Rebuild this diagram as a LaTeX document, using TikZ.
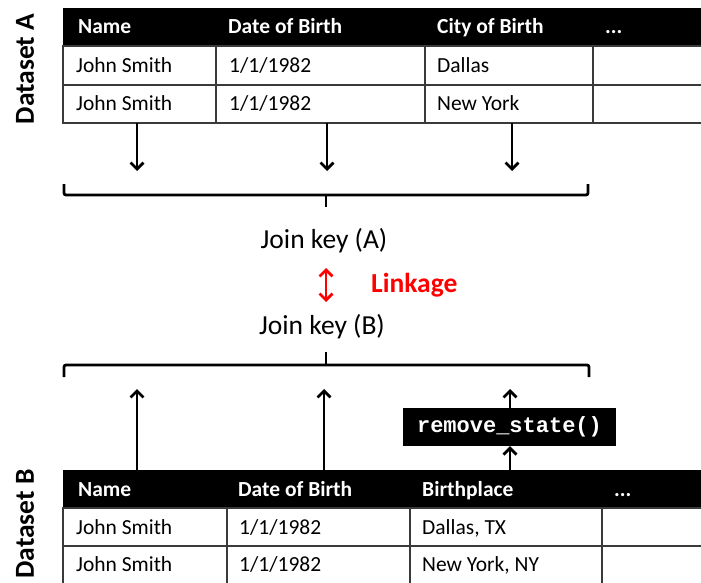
\documentclass[tikz,border=0pt]{standalone}
\usepackage{fontspec}
\setmainfont{Carlito}
\newfontfamily\codefont{Liberation Mono}
\usetikzlibrary{arrows.meta}
\definecolor{gridline}{HTML}{3A3A3A}
\definecolor{linkred}{HTML}{FF0000}
\tikzset{
  cell/.style={anchor=base west, inner sep=0pt, font=\fontsize{21.5}{24}\selectfont},
  headcell/.style={cell, text=white, font=\fontsize{21.5}{24}\selectfont\bfseries},
  gridlines/.style={draw=gridline, line width=1.4pt},
  setlabel/.style={rotate=90, inner sep=0pt, font=\fontsize{27.5}{30}\selectfont\bfseries},
  keylabel/.style={inner sep=0pt, font=\fontsize{27.5}{30}\selectfont},
  feed/.style={line width=2.8pt, -{Straight Barb[length=6.5pt,width=13pt,line width=2.8pt]}},
  brace/.style={line width=2.8pt, rounded corners=2pt},
  funcbox/.style={fill=black, text=white, minimum width=213pt, minimum height=38pt, inner sep=0pt,
    font=\codefont\fontsize{22}{24}\selectfont\bfseries},
}
\begin{document}
\begin{tikzpicture}[x=1pt,y=-1pt]
\useasboundingbox (0,0) rectangle (701,583);
\clip (0,0) rectangle (701,583);

% ---------- Dataset A ----------
\fill[black] (63,8) rectangle (720,46);
\draw[gridlines] (63,46) rectangle (720,123);
\draw[gridlines] (63,85) -- (720,85);
\foreach \x in {216,425,593} \draw[gridlines] (\x,46) -- (\x,123);
\node[headcell] (ahname) at (78,34) {Name};
\node[headcell] (ahdob)  at (228,34) {Date of Birth};
\node[headcell] (ahcity) at (437,34) {City of Birth};
\node[headcell] (ahmore) at (605,34) {...};
\node[cell] (a1name) at (76,72.5) {John Smith};
\node[cell] (a1dob)  at (229,72.5) {1/1/1982};
\node[cell] (a1city) at (437,72.5) {Dallas};
\node[cell] (a2name) at (76,110.5) {John Smith};
\node[cell] (a2dob)  at (229,110.5) {1/1/1982};
\node[cell] (a2city) at (437,110.5) {New York};
\node[setlabel] (setA) at (25,69) {Dataset A};

% columns of A feeding the join key
\coordinate (aout1) at (137,123);
\coordinate (aout2) at (327,123);
\coordinate (aout3) at (512,123);
\coordinate (ain1) at (137,171);
\coordinate (ain2) at (327,171);
\coordinate (ain3) at (512,171);
\foreach \i in {1,2,3} \draw[feed] (aout\i) -- (ain\i);

% brace gathering the columns of A
\coordinate (abl) at (64,184);
\coordinate (abr) at (588,184);
\coordinate (abtip) at (326,207);
\draw[brace] (abl) -- (64,195) -- (588,195) -- (abr);
\draw[line width=2.8pt] (326,195) -- (abtip);

% ---------- join keys ----------
\node[keylabel] (keyA) at (324,241) {Join key (A)};
\node[keylabel] (keyB) at (322,327) {Join key (B)};
\coordinate (linktop) at (326,268);
\coordinate (linkbot) at (326,302);
\draw[draw=linkred, line width=2.8pt,
  {Straight Barb[length=6.5pt,width=13pt,line width=2.8pt]}-{Straight Barb[length=6.5pt,width=13pt,line width=2.8pt]}]
  (linktop) -- (linkbot);
\node[keylabel, anchor=west, text=linkred, font=\fontsize{27.5}{30}\selectfont\bfseries] (link) at (371,285) {Linkage};

% brace gathering the columns of B
\coordinate (bbl) at (64,377);
\coordinate (bbr) at (589,377);
\coordinate (bbtip) at (326,352);
\draw[brace] (bbl) -- (64,365) -- (589,365) -- (bbr);
\draw[line width=2.8pt] (326,365) -- (bbtip);

% ---------- Dataset B ----------
\fill[black] (63,470) rectangle (720,508);
\draw[gridlines] (63,508) rectangle (720,600);
\draw[gridlines] (63,546) -- (720,546);
\foreach \x in {227,410,602} \draw[gridlines] (\x,508) -- (\x,600);
\node[headcell] (bhname)  at (78,496) {Name};
\node[headcell] (bhdob)   at (238,496) {Date of Birth};
\node[headcell] (bhplace) at (422,496) {Birthplace};
\node[headcell] (bhmore)  at (614,496) {...};
\node[cell] (b1name)  at (76,534.5) {John Smith};
\node[cell] (b1dob)   at (239,534.5) {1/1/1982};
\node[cell] (b1place) at (422,534.5) {Dallas, TX};
\node[cell] (b2name)  at (76,571.5) {John Smith};
\node[cell] (b2dob)   at (239,571.5) {1/1/1982};
\node[cell] (b2place) at (422,571.5) {New York, NY};
\node[setlabel] (setB) at (25,524) {Dataset B};

% function applied to the birthplace column
\node[funcbox] (remove) at (509.5,427) {remove\_state()};

\coordinate (bout1) at (137,470);
\coordinate (bout2) at (324,470);
\coordinate (bout3) at (510,470);
\coordinate (bin1) at (137,389);
\coordinate (bin2) at (324,389);
\coordinate (bin3) at (510,389);
\draw[feed] (bout1) -- (bin1);
\draw[feed] (bout2) -- (bin2);
\draw[feed] (bout3) -- (remove.south -| bout3);
\draw[feed] (remove.north -| bout3) -- (bin3);
\end{tikzpicture}
\end{document}
